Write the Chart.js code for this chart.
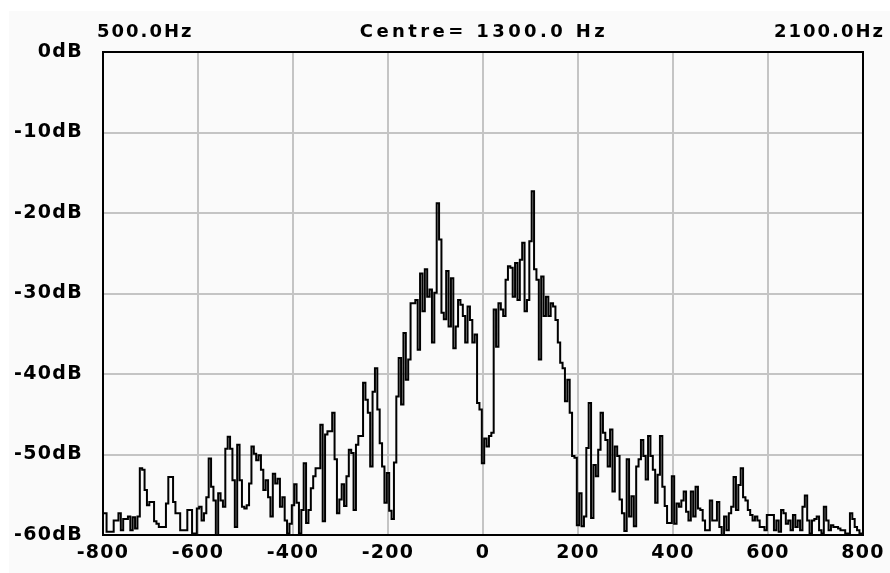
<!DOCTYPE html>
<html>
<head>
<meta charset="utf-8">
<title>Spectrum</title>
<script src="https://cdn.jsdelivr.net/npm/chart.js@4.4.0/dist/chart.umd.min.js"></script>
<style>
  html, body { margin: 0; padding: 0; background: #ffffff; }
  #wrap { width: 890px; height: 573px; }
</style>
</head>
<body>
<div id="wrap"><canvas id="spectrum" width="890" height="573"></canvas></div>
<script>
// sampling grid of the analyser trace (Hz offset from centre)
var startHz = -800;
var stepHz = 5;

// levels in dB, one per 5 Hz bin
var levelsLowEdge = [ // -800 .. -600
  -57.3,-57.3,-59.6,-59.6,-59.6,-58.2,-58.2,-57.3,-59.4,-58.0,
  -58.0,-57.7,-59.4,-57.8,-59.2,-57.7,-51.7,-51.9,-54.4,-56.3,
  -55.9,-55.9,-58.3,-58.6,-59.0,-59.0,-59.0,-56.1,-52.8,-52.8,
  -55.9,-57.3,-57.3,-59.4,-59.4,-59.4,-56.9,-56.9,-59.8,-59.8,
  -56.7
];
var levelsLowMid = [ // -595 .. -400
  -56.5,-58.2,-57.3,-55.3,-50.5,-54.0,-55.7,-60.0,-54.8,-55.7,
  -56.5,-49.3,-47.8,-49.3,-53.2,-59.0,-48.8,-53.2,-56.5,-56.7,
  -56.3,-53.6,-49.0,-49.9,-50.7,-50.1,-51.9,-54.4,-53.2,-55.3,
  -57.7,-52.4,-53.6,-53.0,-56.5,-55.3,-58.2,-59.8,-58.6,-56.3
];
var levelsLowSkirt = [ // -395 .. -200
  -53.7,-56.0,-59.8,-56.9,-51.1,-58.5,-56.9,-54.2,-52.7,-51.7,
  -51.7,-46.3,-58.3,-47.5,-47.1,-47.1,-44.8,-50.6,-57.3,-55.6,
  -53.7,-56.4,-52.7,-49.4,-49.8,-56.9,-48.8,-47.7,-47.7,-41.1,
  -43.2,-44.8,-51.5,-42.2,-39.3,-44.4,-48.6,-51.5,-56.0,-52.3
];
var levelsLowLobe = [ // -195 .. 0
  -57.0,-58.0,-51.0,-42.8,-38.0,-43.8,-34.9,-40.7,-38.2,-31.2,
  -31.2,-30.8,-37.0,-27.5,-32.2,-27.0,-30.4,-29.5,-36.1,-29.9,
  -18.8,-23.3,-32.4,-33.2,-27.2,-34.1,-28.1,-36.8,-34.1,-30.8,
  -31.4,-32.8,-36.1,-31.6,-33.3,-36.1,-35.1,-43.6,-44.4,-51.1
];
var levelsHighLobe = [ // 5 .. 200
  -48.0,-49.0,-47.7,-47.3,-32.0,-36.6,-31.2,-32.0,-32.8,-28.3,
  -26.6,-26.8,-30.4,-26.2,-30.8,-25.8,-23.7,-32.2,-30.8,-23.5,
  -17.3,-27.0,-28.3,-38.2,-27.9,-32.8,-30.4,-32.8,-31.2,-31.6,
  -33.3,-36.1,-38.6,-39.3,-43.4,-40.7,-44.8,-50.2,-50.4,-58.8
];
var levelsHighSkirt = [ // 205 .. 400
  -54.8,-58.9,-57.7,-49.2,-43.6,-57.9,-51.3,-52.7,-49.4,-44.8,
  -47.3,-48.2,-51.5,-46.9,-54.6,-49.0,-50.2,-55.6,-57.3,-59.5,
  -50.6,-57.7,-55.2,-58.9,-51.5,-50.6,-48.2,-50.2,-53.1,-47.7,
  -50.2,-51.9,-56.0,-52.5,-47.7,-54.0,-56.4,-58.5,-58.5,-52.7
];
var levelsHighMid = [ // 405 .. 600
  -58.6,-56.1,-56.5,-55.7,-54.6,-57.1,-58.2,-54.6,-57.7,-54.0,
  -56.7,-56.9,-58.2,-59.4,-59.4,-55.7,-58.2,-58.2,-55.9,-59.0,
  -60.0,-57.7,-59.4,-57.3,-56.5,-52.8,-56.9,-53.8,-51.7,-55.3,
  -55.7,-56.9,-57.5,-58.2,-57.7,-58.2,-59.0,-59.0,-59.4,-57.5
];
var levelsHighEdge = [ // 605 .. 800
  -57.5,-57.5,-59.4,-58.2,-59.6,-56.9,-57.3,-58.6,-58.2,-59.4,
  -57.5,-59.0,-58.2,-59.4,-56.5,-55.1,-58.2,-59.8,-58.2,-58.0,
  -57.7,-59.4,-59.8,-56.5,-58.2,-59.4,-58.8,-59.0,-59.0,-59.2,
  -59.4,-59.4,-59.8,-59.8,-57.3,-58.0,-59.0,-59.4,-59.8,-59.8
];

// axis ticks
var freqTicks = [-800, -600, -400, -200, 0, 200, 400, 600, 800];
var dbTicks = [0, -10, -20, -30, -40, -50, -60];

// header texts
var spanLow = '500.0Hz';
var centreText = 'Centre= 1300.0 Hz';
var spanHigh = '2100.0Hz';

var levels = [].concat(levelsLowEdge, levelsLowMid, levelsLowSkirt, levelsLowLobe,
  levelsHighLobe, levelsHighSkirt, levelsHighMid, levelsHighEdge);

var points = levels.map(function (db, i) {
  return { x: startHz + i * stepHz, y: db };
});

var labelFont = { family: 'DejaVu Sans', size: 19, weight: 'bold', lineHeight: 1.2 };

// letter spacing + background, before anything is painted
var screenPlugin = {
  id: 'screen',
  beforeDraw: function (chart) {
    var ctx = chart.ctx;
    ctx.save();
    ctx.fillStyle = '#fafafa';
    ctx.fillRect(9, 11, chart.width - 9, chart.height - 11);
    ctx.restore();
    ctx.letterSpacing = '1.3px';
  },
  afterDraw: function (chart) {
    var ctx = chart.ctx;
    var a = chart.chartArea;
    ctx.save();
    // frame round the plot
    ctx.strokeStyle = '#000000';
    ctx.lineWidth = 2;
    ctx.strokeRect(a.left, a.top, a.right - a.left, a.bottom - a.top);
    // span / centre header
    ctx.font = 'bold 18px "DejaVu Sans"';
    ctx.fillStyle = '#000000';
    ctx.textBaseline = 'middle';
    ctx.letterSpacing = '2px';
    ctx.textAlign = 'left';
    ctx.fillText(spanLow, 97, 32);
    ctx.textAlign = 'right';
    ctx.fillText(spanHigh, 885, 32);
    ctx.letterSpacing = '3.4px';
    ctx.textAlign = 'center';
    ctx.fillText(centreText, 484, 32);
    ctx.restore();
  }
};

var chart = new Chart(document.getElementById('spectrum').getContext('2d'), {
  type: 'line',
  data: {
    datasets: [{
      data: points,
      borderColor: '#000000',
      borderWidth: 2,
      stepped: 'middle',
      pointRadius: 0,
      fill: false
    }]
  },
  options: {
    responsive: false,
    animation: false,
    devicePixelRatio: 1,
    layout: { padding: { top: 52, right: 27, left: 0, bottom: 0 } },
    plugins: {
      legend: { display: false },
      tooltip: { enabled: false }
    },
    scales: {
      x: {
        type: 'linear',
        min: -800,
        max: 800,
        afterBuildTicks: function (scale) {
          scale.ticks = freqTicks.map(function (v) { return { value: v }; });
        },
        afterFit: function (scale) { scale.height = 38; },
        grid: { color: '#c4c4c4', lineWidth: 2, drawTicks: false },
        border: { color: '#000000', width: 2 },
        ticks: {
          color: '#000000',
          font: labelFont,
          padding: 7,
          maxRotation: 0,
          autoSkip: false
        }
      },
      y: {
        min: -60,
        max: 0,
        afterBuildTicks: function (scale) {
          scale.ticks = dbTicks.map(function (v) { return { value: v }; });
        },
        afterFit: function (scale) { scale.width = 103; },
        grid: { color: '#c4c4c4', lineWidth: 2, drawTicks: false },
        border: { color: '#000000', width: 2 },
        ticks: {
          color: '#000000',
          font: labelFont,
          padding: 20,
          callback: function (v) { return v + 'dB'; }
        }
      }
    }
  },
  plugins: [screenPlugin]
});
</script>
</body>
</html>
